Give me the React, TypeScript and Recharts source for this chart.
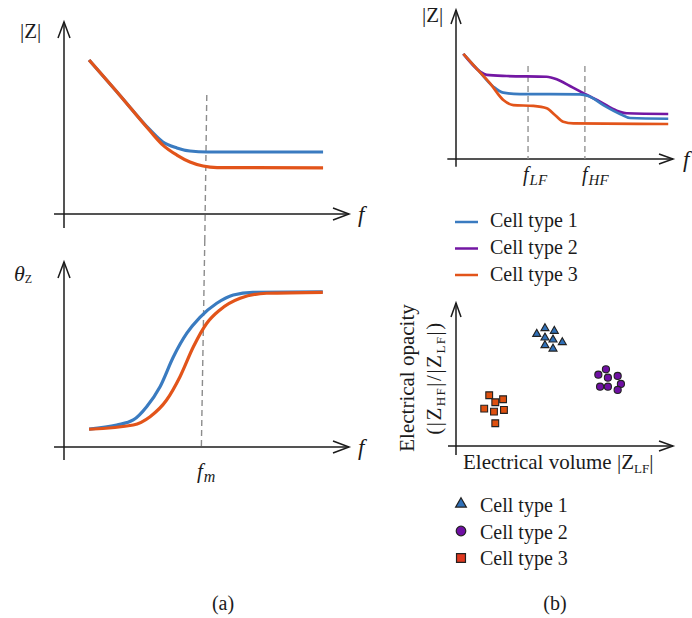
import React from 'react';
import { LineChart, Line, ScatterChart, Scatter, XAxis, YAxis, ReferenceLine, Symbols } from 'recharts';

const SERIF = '"Liberation Serif", "Times New Roman", serif';
const INK = '#1b1b1b';
const BLUE = '#3a7bc0';
const PURPLE = '#7317a3';
const ORANGE = '#e2541a';
const DASH = '#8c8c8c';

// all panels use 0..100 schematic units on both axes (log f, |Z| or phase)

// (a) top: |Z| against f
const aMagType1 = [[8.8, 80.2], [19.5, 62.0], [30.2, 43.8], [34.7, 37.5], [39.6, 34.4], [44.2, 32.8], [50.2, 32.3], [90.9, 32.3]];
const aMagType3 = [[8.8, 80.2], [19.5, 62.0], [30.2, 43.2], [34.7, 35.9], [39.6, 30.7], [44.2, 27.1], [48.8, 25.0], [53.7, 24.2], [90.9, 24.0]];

// (a) bottom: phase against f
const aPhaseType1 = [[8.8, 9.7], [18.5, 11.9], [24.3, 14.6], [29.0, 21.8], [33.7, 32.6], [38.4, 48.8], [43.1, 61.5], [47.7, 70.1], [53.6, 77.7], [59.4, 82.2], [66.3, 83.6], [90.8, 83.9]];
const aPhaseType3 = [[8.8, 9.6], [24.3, 11.9], [30.2, 16.4], [36.0, 25.4], [40.7, 38.0], [45.4, 54.2], [50.1, 66.9], [54.7, 74.1], [61.8, 80.4], [71.1, 83.1], [90.8, 83.6]];

// (b) top: |Z| against f, three cell types
const bMagType1 = [[3.4, 70.5], [10.3, 59.5], [17.2, 48.5], [21.8, 44.5], [29.5, 43.6], [57.1, 43.4], [61.0, 42.3], [67.9, 36.2], [75.6, 30.2], [80.2, 27.5], [97.8, 27.0]];
const bMagType2 = [[3.4, 70.5], [11.1, 58.6], [14.1, 56.4], [23.4, 55.7], [41.8, 55.2], [46.4, 53.5], [52.5, 49.0], [59.4, 43.6], [66.4, 38.5], [74.1, 32.4], [78.7, 30.7], [97.8, 30.2]];
const bMagType3 = [[3.4, 70.5], [9.5, 60.7], [15.7, 50.8], [21.8, 39.6], [26.4, 36.2], [35.6, 35.6], [41.8, 34.0], [45.6, 29.5], [49.4, 25.0], [54.1, 23.9], [97.8, 23.5]];

// marker frequencies
const fM = [[50.1, 62.0], [49.4, -13.5]];
const fMLow = [[49.4, 111.9], [48.2, 0]];
const fLF = 33.2;
const fHF = 59.4;

// (b) bottom: opacity against volume
const scatterType1 = [[37.2, 78.3], [41.0, 82.3], [45.3, 80.4], [41.0, 75.7], [44.7, 74.3], [49.0, 72.5], [41.0, 70.4], [44.7, 68.0]];
const scatterType2 = [[65.6, 49.9], [69.1, 53.6], [74.5, 49.0], [70.0, 47.8], [76.0, 43.4], [66.4, 41.5], [70.0, 41.5], [74.5, 39.2]];
const scatterType3 = [[15.3, 35.5], [21.7, 32.7], [18.1, 30.6], [13.0, 26.1], [22.1, 25.2], [17.5, 24.0], [18.1, 15.9]];

const legendLines = [
  { name: 'Cell type 1', color: BLUE },
  { name: 'Cell type 2', color: PURPLE },
  { name: 'Cell type 3', color: ORANGE },
];
const legendMarks = [
  { name: 'Cell type 1', type: 'triangle', fill: '#2f70b8', size: 50 },
  { name: 'Cell type 2', type: 'circle', fill: '#6f0fa3', size: 72 },
  { name: 'Cell type 3', type: 'square', fill: '#e0381f', size: 80 },
];

const pts = (arr: number[][]) => arr.map(([x, y]) => ({ x, y }));

function ArrowAxis(props: any) {
  const { x1, y1, x2, y2, head, half } = props;
  const a = Math.atan2(y2 - y1, x2 - x1);
  const bx = x2 - head * Math.cos(a);
  const by = y2 - head * Math.sin(a);
  const nx = -Math.sin(a) * half;
  const ny = Math.cos(a) * half;
  return (
    <g>
      <line x1={x1} y1={y1} x2={x2} y2={y2} stroke={INK} strokeWidth={1.5} />
      <path d={`M${bx + nx},${by + ny}L${x2},${y2}L${bx - nx},${by - ny}`} fill="none" stroke={INK} strokeWidth={1.5} />
    </g>
  );
}

function axes(xMin: number, yMin: number, head: number, half: number) {
  const shape = (p: any) => <ArrowAxis {...p} head={head} half={half} />;
  return [
    <ReferenceLine key="ax" segment={[{ x: xMin, y: 0 }, { x: 100, y: 0 }]} ifOverflow="visible" shape={shape} />,
    <ReferenceLine key="ay" segment={[{ x: 0, y: yMin }, { x: 0, y: 100 }]} ifOverflow="visible" shape={shape} />,
  ];
}

const marker = (type: string, size: number, fill: string) => (p: any) => (
  <Symbols cx={p.cx} cy={p.cy} type={type as any} size={size} fill={fill} stroke="#222" strokeWidth={1.1} />
);

const hidden = [
  <XAxis key="x" type="number" dataKey="x" domain={[0, 100]} allowDataOverflow hide />,
  <YAxis key="y" type="number" dataKey="y" domain={[0, 100]} allowDataOverflow hide />,
];

const pos = (left: number, top: number): React.CSSProperties => ({ position: 'absolute', left, top });

export default function App() {
  return (
    <div style={{ position: 'absolute', left: 0, top: 0, width: 692, height: 618, background: '#fff', fontFamily: SERIF }}>
      <div style={pos(0, 0)}>
        <LineChart width={360} height={240} margin={{ top: 22, left: 64, right: 11, bottom: 26 }}>
          {hidden}
          {axes(-3.5, -7.3, 16, 6)}
          <ReferenceLine segment={pts(fM)} ifOverflow="visible" stroke={DASH} strokeWidth={1.4} strokeDasharray="6 4" />
          <Line data={pts(aMagType1)} dataKey="y" type="monotone" stroke={BLUE} strokeWidth={3.2} dot={false} isAnimationActive={false} />
          <Line data={pts(aMagType3)} dataKey="y" type="monotone" stroke={ORANGE} strokeWidth={3.2} dot={false} isAnimationActive={false} />
        </LineChart>
      </div>
      <div style={pos(0, 240)}>
        <LineChart width={360} height={240} margin={{ top: 22, left: 64, right: 11, bottom: 33 }}>
          {hidden}
          {axes(-3.5, -7.0, 16, 6)}
          <ReferenceLine segment={pts(fMLow)} ifOverflow="visible" stroke={DASH} strokeWidth={1.4} strokeDasharray="6 4" />
          <Line data={pts(aPhaseType1)} dataKey="y" type="monotone" stroke={BLUE} strokeWidth={3.2} dot={false} isAnimationActive={false} />
          <Line data={pts(aPhaseType3)} dataKey="y" type="monotone" stroke={ORANGE} strokeWidth={3.2} dot={false} isAnimationActive={false} />
        </LineChart>
      </div>
      <div style={pos(390, 0)}>
        <LineChart width={302} height={200} margin={{ top: 10, left: 66, right: 19, bottom: 41 }}>
          {hidden}
          {axes(-4.0, -5.2, 14, 5)}
          <ReferenceLine segment={[{ x: fLF, y: 62.4 }, { x: fLF, y: 0 }]} ifOverflow="visible" stroke={DASH} strokeWidth={1.3} strokeDasharray="6 4" />
          <ReferenceLine segment={[{ x: fHF, y: 62.4 }, { x: fHF, y: 0 }]} ifOverflow="visible" stroke={DASH} strokeWidth={1.3} strokeDasharray="6 4" />
          <Line data={pts(bMagType2)} dataKey="y" type="monotone" stroke={PURPLE} strokeWidth={2.7} dot={false} isAnimationActive={false} />
          <Line data={pts(bMagType1)} dataKey="y" type="monotone" stroke={BLUE} strokeWidth={2.7} dot={false} isAnimationActive={false} />
          <Line data={pts(bMagType3)} dataKey="y" type="monotone" stroke={ORANGE} strokeWidth={2.7} dot={false} isAnimationActive={false} />
        </LineChart>
      </div>
      <div style={pos(390, 290)}>
        <ScatterChart width={302} height={190} margin={{ top: 13, left: 66, right: 19, bottom: 34 }}>
          {hidden}
          {axes(-3.7, -6.3, 14, 5)}
          <Scatter data={pts(scatterType1)} shape={marker('triangle', 28, '#2f70b8')} fill="#2f70b8" isAnimationActive={false} />
          <Scatter data={pts(scatterType2)} shape={marker('circle', 40, '#6f0fa3')} fill="#6f0fa3" isAnimationActive={false} />
          <Scatter data={pts(scatterType3)} shape={marker('square', 46, '#de500f')} fill="#de500f" isAnimationActive={false} />
        </ScatterChart>
      </div>

      <svg width={692} height={618} style={{ position: 'absolute', left: 0, top: 0, pointerEvents: 'none' }} fontFamily={SERIF} fill={INK}>
        {/* panel (a) */}
        <text x={20} y={38} fontSize={21}>|Z|</text>
        <text x={358} y={222} fontSize={23} fontStyle="italic">f</text>
        <text x={14} y={281} fontSize={22} fontStyle="italic">θ<tspan fontSize={12} fontStyle="normal" dy={2}>Z</tspan></text>
        <text x={358} y={455} fontSize={23} fontStyle="italic">f</text>
        <text x={197} y={478} fontSize={21} fontStyle="italic">f<tspan fontSize={16} dx={1} dy={4}>m</tspan></text>
        <text x={223} y={610} fontSize={20} textAnchor="middle">(a)</text>

        {/* panel (b) */}
        <text x={422} y={22} fontSize={21}>|Z|</text>
        <text x={683} y={167} fontSize={23} fontStyle="italic">f</text>
        <text x={523} y={181} fontSize={20} fontStyle="italic">f<tspan fontSize={15} dx={1} dy={4}>LF</tspan></text>
        <text x={582} y={181} fontSize={20} fontStyle="italic">f<tspan fontSize={15} dx={1} dy={4}>HF</tspan></text>

        {legendLines.map((d, i) => (
          <g key={d.name}>
            <line x1={455} x2={478} y1={222 + i * 26.5} y2={222 + i * 26.5} stroke={d.color} strokeWidth={2.5} />
            <text x={490} y={227 + i * 27} fontSize={20}>{d.name}</text>
          </g>
        ))}

        <text transform="translate(414,378) rotate(-90)" textAnchor="middle" fontSize={21}>Electrical opacity</text>
        <text transform="translate(441,378) rotate(-90)" textAnchor="middle" fontSize={21} letterSpacing={1.5}>
          (|Z<tspan fontSize={13} dy={4}>HF</tspan><tspan dy={-4}>|/|Z</tspan><tspan fontSize={13} dy={4}>LF</tspan><tspan dy={-4}>|)</tspan>
        </text>
        <text x={463} y={469} fontSize={21}>
          Electrical volume |Z<tspan fontSize={13} dy={4}>LF</tspan><tspan dy={-4}>|</tspan>
        </text>

        {legendMarks.map((d, i) => (
          <g key={d.name}>
            <Symbols cx={461} cy={504 + i * 27} type={d.type as any} size={d.size} fill={d.fill} stroke="#222" strokeWidth={1.2} />
            <text x={480} y={512 + i * 26.5} fontSize={20}>{d.name}</text>
          </g>
        ))}
        <text x={555} y={610} fontSize={20} textAnchor="middle">(b)</text>
      </svg>
    </div>
  );
}
